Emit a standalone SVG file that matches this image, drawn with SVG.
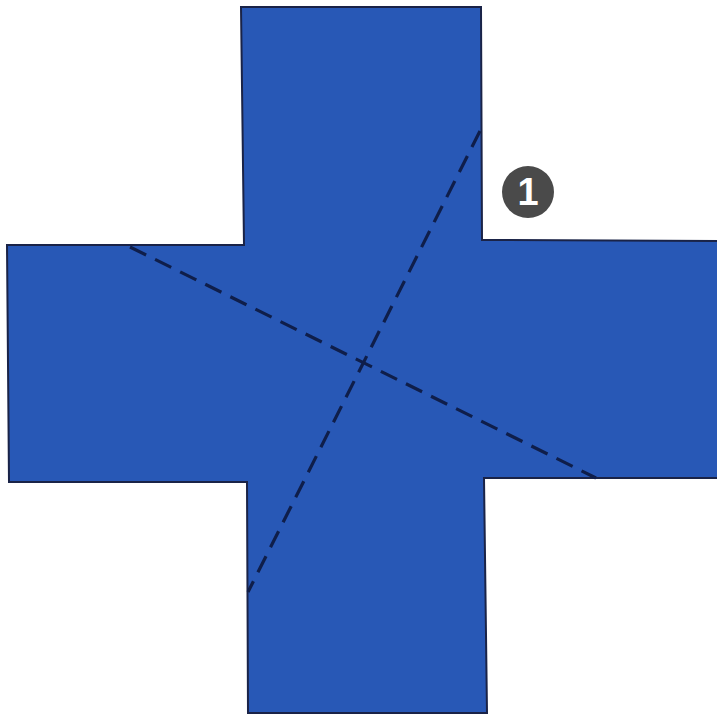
<svg xmlns="http://www.w3.org/2000/svg" width="717" height="717" viewBox="0 0 717 717">
<style>
.cross{fill:#2858b6;stroke:#1a2347;stroke-width:2;stroke-linejoin:miter}
.fold{fill:none;stroke:#0f1e4a;stroke-width:3.2;stroke-dasharray:18 10}
.badge{fill:#4a4a4a}
.num{fill:#ffffff;font-family:"Liberation Sans",Arial,sans-serif;font-weight:bold;font-size:38px}
</style>
<rect width="717" height="717" fill="#ffffff"/>
<g id="cross">
<polygon class="cross" points="241,7 481,7 482,240 718,241 718,478 484,478 487,713 248,713 247,482 9,482 7,245 244,245"/>
</g>
<g id="connectors">
<line class="fold" x1="130" y1="247" x2="596" y2="478"/>
<line class="fold" x1="480" y1="131" x2="248" y2="592"/>
</g>
<g id="badge">
<circle class="badge" cx="528" cy="192" r="26"/>
<text class="num" x="528" y="205" text-anchor="middle">1</text>
</g>
</svg>
